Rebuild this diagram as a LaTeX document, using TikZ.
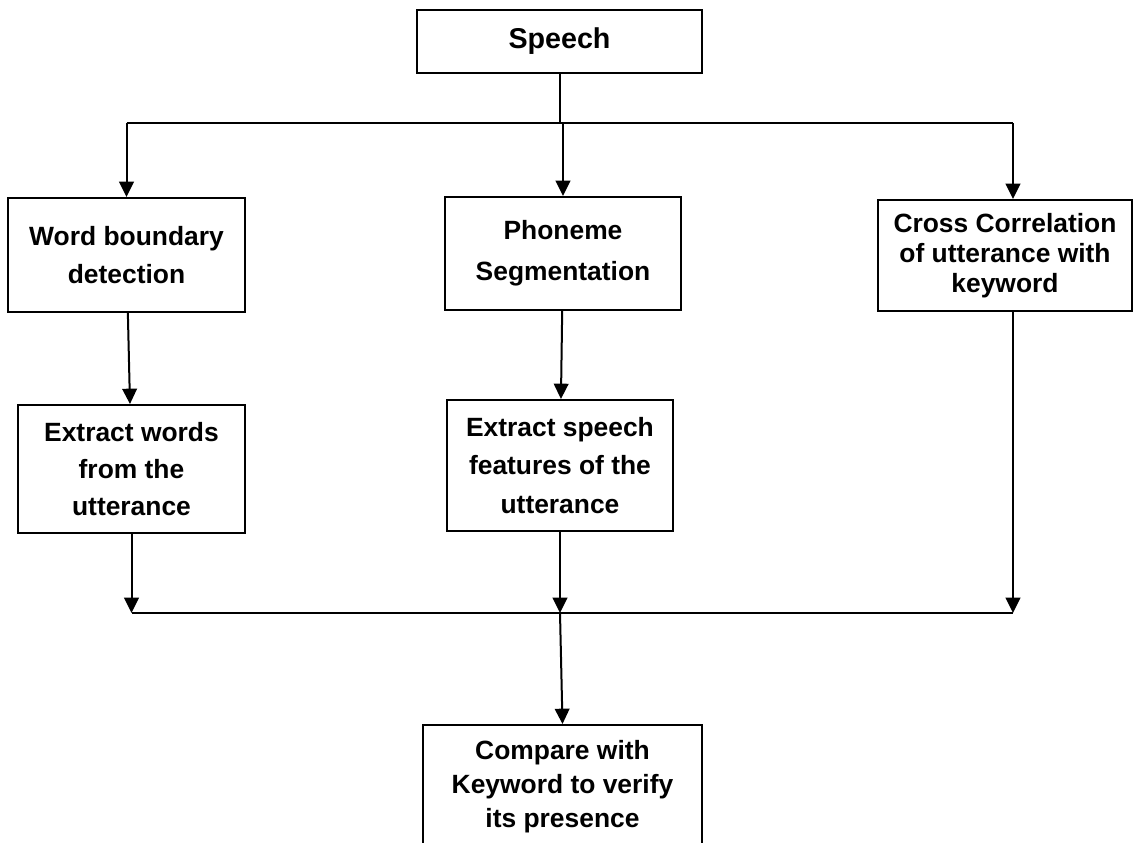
\documentclass[tikz,border=0pt]{standalone}
\usepackage{fontspec}
\setmainfont{Liberation Sans}
\usetikzlibrary{arrows.meta}
\tikzset{
	blk/.style={draw, line width=1.5pt, align=center, inner sep=0pt, font=\bfseries\fontsize{19.8}{29}\selectfont},
	wire/.style={line width=1.5pt},
	flow/.style={line width=1.5pt, -{Triangle[width=11pt,length=11.5pt]}}
}
\begin{document}
\begin{tikzpicture}[x=0.75pt,y=0.75pt,yscale=-1,xscale=1]
			\useasboundingbox (0,0) rectangle (1134,842);
			\clip (0,0) rectangle (1134,842);
			
			%Shape: Rectangle [Speech]
			\node [blk, minimum width=213.75pt, minimum height=47.25pt, font=\bfseries\fontsize{21.5}{26}\selectfont] (speech) at (559.5,41.5) {Speech};
			%Shape: Rectangle [Word boundary]
			\node [blk, minimum width=177.75pt, minimum height=85.5pt] (wbd) at (126.5,255) {Word boundary\\detection};
			%Shape: Rectangle [Phoneme]
			\node [blk, minimum width=177pt, minimum height=84.75pt, font=\bfseries\fontsize{19.8}{31}\selectfont] (phon) at (563,253.5) {Phoneme\\Segmentation};
			%Shape: Rectangle [Cross Correlation]
			\node [blk, minimum width=190.5pt, minimum height=83.25pt, font=\bfseries\fontsize{19.8}{22.5}\selectfont] (cross) at (1005,255.5) {Cross Correlation\\of utterance with\\keyword};
			%Shape: Rectangle [Extract words]
			\node [blk, minimum width=170.25pt, minimum height=96pt, font=\bfseries\fontsize{19.8}{28}\selectfont] (extw) at (131.5,469) {Extract words\\from the\\utterance};
			%Shape: Rectangle [Extract speech]
			\node [blk, minimum width=169.5pt, minimum height=98.25pt] (exts) at (560,465.5) {Extract speech\\features of the\\utterance};
			%Shape: Rectangle [Compare]
			\node [blk, minimum width=209.25pt, minimum height=93pt, font=\bfseries\fontsize{19.8}{25.5}\selectfont] (comp) at (562.5,787) {Compare with\\Keyword to verify\\its presence};
			
			\coordinate (split) at (559.5,123);
			\coordinate (merge) at (560,613);
			
			%Straight Lines [split]
			\draw [wire] (speech.south) -- (split);
			\draw [wire] (wbd.north |- split) -- ([xshift=6pt]cross.north |- split);
			\draw [flow] (wbd.north |- split) -- (wbd.north);
			\draw [flow] (phon.north |- split) -- (phon.north);
			\draw [flow] ([xshift=6pt]cross.north |- split) -- ([xshift=6pt]cross.north);
			%Straight Lines [chains]
			\draw [flow] (wbd) -- (extw);
			\draw [flow] (phon) -- (exts);
			%Straight Lines [merge]
			\draw [flow] (extw.south) -- (extw.south |- merge);
			\draw [flow] (exts.south) -- (exts.south |- merge);
			\draw [flow] ([xshift=6pt]cross.south) -- ([xshift=6pt]cross.south |- merge);
			\draw [wire] (extw.south |- merge) -- ([xshift=6pt]cross.south |- merge);
			\draw [flow] (merge) -- (comp.north);
\end{tikzpicture}
\end{document}
